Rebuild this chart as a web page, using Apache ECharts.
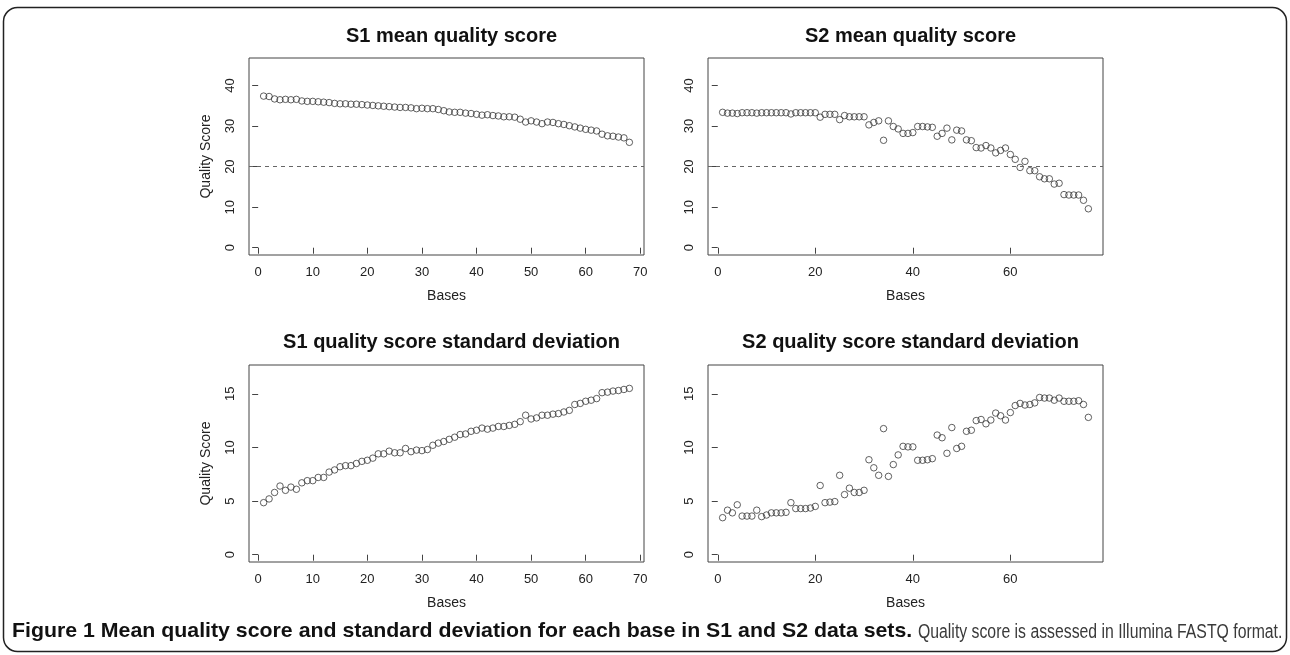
<!DOCTYPE html>
<html><head><meta charset="utf-8">
<script src="https://cdn.jsdelivr.net/npm/echarts@6/dist/echarts.min.js"></script>
<style>html,body{margin:0;padding:0;background:#fff}#c{width:1290px;height:655px}</style>
</head><body><div id="c"></div><script>
// ---- data ----
const s1Mean = [37.4,37.3,36.7,36.5,36.6,36.5,36.6,36.2,36.1,36.1,
  36.0,35.9,35.8,35.6,35.5,35.5,35.4,35.4,35.3,35.2,
  35.1,35.0,34.9,34.8,34.7,34.6,34.6,34.5,34.3,34.4,
  34.3,34.3,34.1,33.8,33.5,33.4,33.4,33.2,33.1,32.9,
  32.7,32.8,32.6,32.5,32.3,32.3,32.2,31.7,31.0,31.3,
  31.0,30.6,31.0,30.9,30.6,30.4,30.1,29.8,29.5,29.2,
  29.0,28.8,28.0,27.6,27.5,27.3,27.1,26.0];
const s2Mean = [33.4,33.2,33.2,33.1,33.3,33.3,33.3,33.2,33.3,33.3,
  33.3,33.3,33.3,33.3,33.0,33.3,33.3,33.3,33.3,33.3,
  32.2,32.9,32.9,32.9,31.6,32.6,32.3,32.3,32.3,32.3,
  30.3,30.9,31.3,26.5,31.3,29.9,29.3,28.2,28.2,28.4,
  29.9,29.9,29.8,29.7,27.5,28.2,29.5,26.6,29.0,28.8,
  26.6,26.4,24.7,24.6,25.2,24.6,23.4,24.0,24.6,23.0,
  21.8,19.8,21.3,19.0,19.0,17.5,17.0,17.0,15.7,15.9,
  13.1,13.0,13.0,13.0,11.7,9.6];
const s1Sd = [4.85,5.2,5.8,6.4,6.0,6.3,6.1,6.7,6.9,6.9,
  7.2,7.2,7.7,7.9,8.2,8.3,8.3,8.5,8.7,8.8,
  9.0,9.4,9.4,9.65,9.5,9.5,9.9,9.6,9.75,9.7,
  9.8,10.2,10.4,10.55,10.75,10.95,11.2,11.25,11.5,11.6,
  11.8,11.7,11.8,11.95,11.95,12.05,12.15,12.4,13.0,12.65,
  12.75,13.0,13.0,13.1,13.15,13.3,13.45,14.0,14.1,14.3,
  14.4,14.55,15.1,15.15,15.25,15.3,15.4,15.5];
const s2Sd = [3.45,4.15,3.9,4.65,3.6,3.6,3.6,4.15,3.55,3.7,
  3.9,3.9,3.9,3.95,4.85,4.3,4.3,4.3,4.35,4.5,
  6.45,4.85,4.9,4.95,7.4,5.6,6.2,5.8,5.8,6.0,
  8.85,8.1,7.4,11.75,7.3,8.4,9.3,10.1,10.05,10.05,
  8.8,8.8,8.85,8.95,11.15,10.9,9.45,11.85,9.9,10.1,
  11.5,11.6,12.5,12.6,12.2,12.55,13.2,12.95,12.55,13.25,
  13.9,14.1,13.95,14.0,14.15,14.65,14.6,14.6,14.4,14.6,
  14.3,14.3,14.3,14.35,14.0,12.8];
const panelTitles = ['S1 mean quality score','S2 mean quality score',
  'S1 quality score standard deviation','S2 quality score standard deviation'];
const xTicksS1 = [0,10,20,30,40,50,60,70];
const xTicksS2 = [0,20,40,60];
const yTicksMean = [0,10,20,30,40];
const yTicksSd = [0,5,10,15];
const threshold = 20;
const xName = 'Bases';
const yName = 'Quality Score';
const captionBold = 'Figure 1 Mean quality score and standard deviation for each base in S1 and S2 data sets.';
const captionText = 'Quality score is assessed in Illumina FASTQ format.';

// ---- layout ----
const FONT = 'Liberation Sans, Arial, sans-serif';
const grids = [
  {left:249, top:58, width:395, height:197},
  {left:708, top:58, width:395, height:197},
  {left:249, top:365, width:395, height:197},
  {left:708, top:365, width:395, height:197}
];
const panels = [
  {data:s1Mean, xr:[-1.68,70.68], xt:xTicksS1, yr:[-1.8,46.8], yt:yTicksMean, line:true, yname:true},
  {data:s2Mean, xr:[-2,79], xt:xTicksS2, yr:[-1.8,46.8], yt:yTicksMean, line:true, yname:false},
  {data:s1Sd, xr:[-1.68,70.68], xt:xTicksS1, yr:[-0.68,17.68], yt:yTicksSd, line:false, yname:true},
  {data:s2Sd, xr:[-2,79], xt:xTicksS2, yr:[-0.68,17.68], yt:yTicksSd, line:false, yname:false}
];
const axisCol = '#444';
const option = {
  animation:false,
  backgroundColor:'#fff',
  textStyle:{fontFamily:FONT},
  title: panels.map((p,i)=>({
    text: panelTitles[i],
    left: grids[i].left + grids[i].width/2,
    textAlign:'center',
    top: i<2 ? 21 : 327,
    textStyle:{fontFamily:FONT, fontWeight:'bold', fontSize:20, color:'#111'}
  })),
  grid: grids.map(g=>Object.assign({show:true, borderColor:axisCol, borderWidth:1, backgroundColor:'transparent', containLabel:false}, g)),
  xAxis: panels.map((p,i)=>({
    type:'value', gridIndex:i, min:p.xr[0], max:p.xr[1],
    name:xName, nameLocation:'middle', nameGap:34,
    nameTextStyle:{fontFamily:FONT, fontSize:14, color:'#222'},
    axisLine:{show:false},
    splitLine:{show:false},
    axisTick:{show:true, customValues:p.xt, length:6, lineStyle:{color:axisCol}},
    axisLabel:{show:true, customValues:p.xt, margin:11, fontSize:13, color:'#222', fontFamily:FONT}
  })),
  yAxis: panels.map((p,i)=>({
    type:'value', gridIndex:i, min:p.yr[0], max:p.yr[1],
    name: p.yname ? yName : '', nameLocation:'middle', nameGap:36, nameRotate:90,
    nameTextStyle:{fontFamily:FONT, fontSize:14, color:'#222'},
    axisLine:{show:false},
    splitLine:{show:false},
    axisTick:{show:true, customValues:p.yt, length:6, lineStyle:{color:axisCol}},
    axisLabel:{show:true, customValues:p.yt, rotate:90, margin:12, fontSize:13, color:'#222', fontFamily:FONT}
  })),
  series: panels.map((p,i)=>{
    const s = {
      type:'scatter', xAxisIndex:i, yAxisIndex:i,
      data: p.data.map((v,k)=>[k+1, v]),
      symbol:'circle', symbolSize:6.5,
      itemStyle:{color:'rgba(255,255,255,0)', borderColor:'#3a3a3a', borderWidth:1},
      emphasis:{disabled:true}
    };
    if (p.line) {
      s.markLine = {
        silent:true, symbol:['none','none'], label:{show:false},
        lineStyle:{color:'#666', type:[4,4], width:1},
        data:[{yAxis:threshold}]
      };
    }
    return s;
  }),
  graphic:[
    {type:'rect', shape:{x:3.5, y:7.5, width:1283, height:644, r:14},
     style:{fill:'none', stroke:'#222', lineWidth:1.5}, silent:true},
    {type:'text', x:12, y:621, scaleX:1.015, silent:true,
     style:{text:captionBold, fontFamily:FONT, fontWeight:'bold', fontSize:21, fill:'#111'}},
    {type:'text', x:918, y:622, scaleX:0.79, silent:true,
     style:{text:captionText, fontFamily:FONT, fontSize:20, fill:'#3a3a3a'}}
  ]
};
const chart = echarts.init(document.getElementById('c'), null, {renderer:'canvas'});
chart.setOption(option);
</script></body></html>
